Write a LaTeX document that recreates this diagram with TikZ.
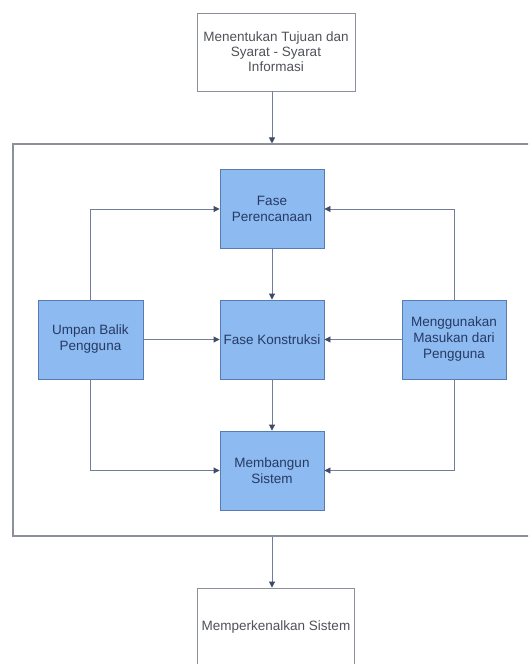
\documentclass[tikz,border=0pt]{standalone}
\usepackage{fontspec}
\setmainfont{Liberation Sans}
\usetikzlibrary{arrows.meta}

\definecolor{boxfill}{RGB}{141,186,240}
\definecolor{boxedge}{RGB}{88,124,176}
\definecolor{boxtext}{RGB}{38,58,100}
\definecolor{plainedge}{RGB}{140,144,152}
\definecolor{plaintext}{RGB}{80,82,88}
\definecolor{wire}{RGB}{112,126,152}
\definecolor{tip}{RGB}{62,76,104}

\tikzset{
  phase/.style={draw=boxedge, fill=boxfill, line width=0.9pt, text=boxtext,
    minimum width=104pt, minimum height=79pt, inner sep=0pt, align=center,
    font=\fontsize{13.5}{16}\selectfont},
  plainbox/.style={draw=plainedge, fill=white, line width=0.9pt, text=plaintext,
    minimum width=158pt, minimum height=78pt, inner sep=0pt, align=center,
    font=\fontsize{13.5}{15}\selectfont},
  frame/.style={draw=plainedge, line width=1.1pt, inner sep=0pt,
    minimum width=540pt, minimum height=392pt},
  arr/.style={draw=wire, line width=0.9pt,
    -{Triangle[length=6pt,width=6pt,fill=tip,color=tip]}},
}

\begin{document}
\begin{tikzpicture}[x=1pt,y=-1pt]
  \useasboundingbox (0,0) rectangle (528,664);
  \fill[white] (0,0) rectangle (528,664);
  \clip (0,0) rectangle (528,664);

  % enclosing development cycle
  \node[frame] (frame) at (283,340) {};

  % outer steps
  \node[plainbox] (tujuan) at (276,52) {Menentukan Tujuan dan\\Syarat - Syarat\\Informasi};
  \node[plainbox, minimum width=157pt] (kenal) at (276,627) {Memperkenalkan Sistem};

  % phases inside the cycle
  \node[phase] (plan) at (272,209) {Fase\\Perencanaan};
  \node[phase] (konst) at (272,339.5) {Fase Konstruksi};
  \node[phase] (bangun) at (272,470.5) {Membangun\\Sistem};
  \node[phase, minimum width=105pt] (umpan) at (90.5,339.5) {Umpan Balik\\Pengguna};
  \node[phase] (masuk) at (454,339.5) {Menggunakan\\Masukan dari\\Pengguna};

  % flow into and out of the cycle
  \draw[arr] (tujuan.south -| plan.center) -- (plan.center |- frame.north);
  \draw[arr] (plan.center |- frame.south) -- (kenal.north -| plan.center);

  % main sequence
  \draw[arr] (plan) -- (konst);
  \draw[arr] (konst) -- (bangun);

  % feedback from users
  \draw[arr] (umpan.north) |- (plan.west);
  \draw[arr] (umpan.east) -- (konst.west);
  \draw[arr] (umpan.south) |- (bangun.west);

  % user input
  \draw[arr] (masuk.north) |- (plan.east);
  \draw[arr] (masuk.west) -- (konst.east);
  \draw[arr] (masuk.south) |- (bangun.east);
\end{tikzpicture}
\end{document}
